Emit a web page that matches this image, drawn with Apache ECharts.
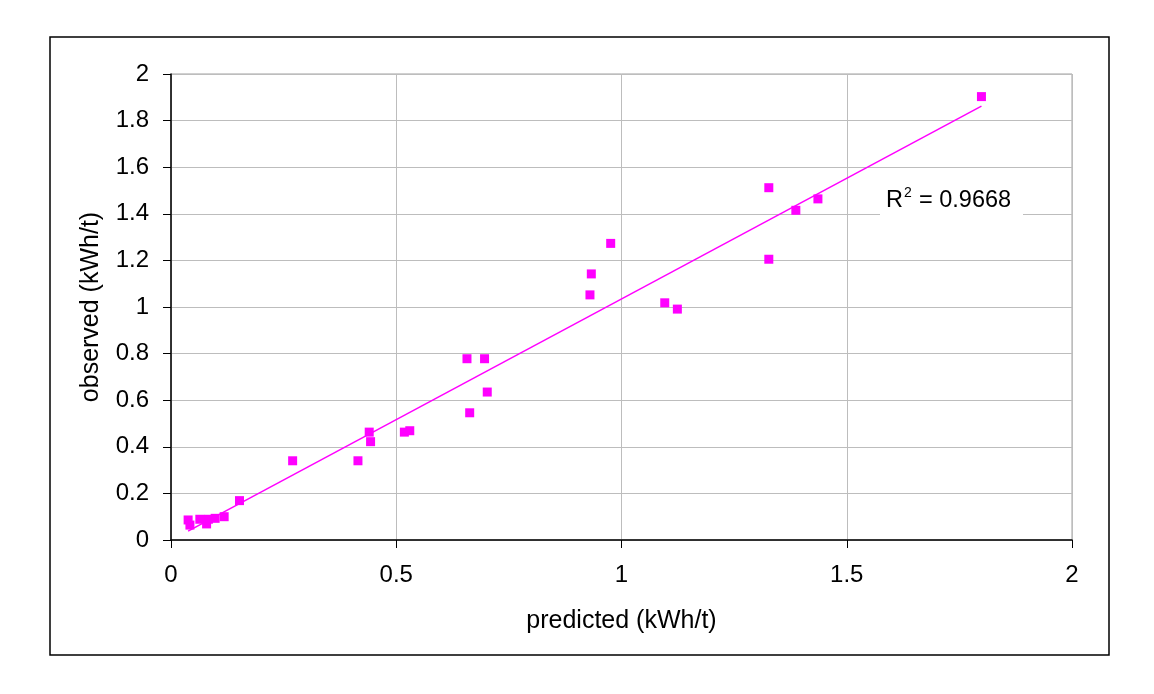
<!DOCTYPE html>
<html>
<head>
<meta charset="utf-8">
<script src="https://cdn.jsdelivr.net/npm/echarts@6/dist/echarts.min.js"></script>
<style>html,body{margin:0;padding:0;background:#fff;}#c{width:1154px;height:694px;}</style>
</head>
<body>
<div id="c"></div>
<script>
var predicted = [0.038, 0.042, 0.064, 0.079, 0.083, 0.098, 0.118, 0.152, 0.27, 0.415, 0.44, 0.443, 0.518, 0.53, 0.657, 0.696, 0.702, 0.663, 0.93, 0.933, 0.976, 1.096, 1.124, 1.327, 1.327, 1.387, 1.436, 1.799];
var observed  = [0.086, 0.064, 0.089, 0.069, 0.089, 0.093, 0.100, 0.169, 0.34, 0.34, 0.463, 0.422, 0.463, 0.469, 0.778, 0.778, 0.635, 0.546, 1.052, 1.142, 1.273, 1.018, 0.991, 1.512, 1.205, 1.415, 1.464, 1.903];
var xTicks = [0, 0.5, 1, 1.5, 2];
var yTicks = [0, 0.2, 0.4, 0.6, 0.8, 1, 1.2, 1.4, 1.6, 1.8, 2];
var xName = 'predicted (kWh/t)';
var yName = 'observed (kWh/t)';
var r2Base = 'R';
var r2Sup = '2';
var r2Rest = '= 0.9668';

// least-squares trendline
var n = predicted.length, sx = 0, sy = 0, sxx = 0, sxy = 0;
for (var i = 0; i < n; i++) { sx += predicted[i]; sy += observed[i]; sxx += predicted[i]*predicted[i]; sxy += predicted[i]*observed[i]; }
var slope = (n*sxy - sx*sy) / (n*sxx - sx*sx);
var icpt = (sy - slope*sx) / n;
var xmin = Math.min.apply(null, predicted), xmax = Math.max.apply(null, predicted);
var trend = [[xmin, icpt + slope*xmin], [xmax, icpt + slope*xmax]];
var pts = predicted.map(function (p, i) { return [p, observed[i]]; });

var FONT = 'Liberation Sans, Arial, sans-serif';
var chart = echarts.init(document.getElementById('c'), null, {renderer: 'canvas'});
chart.setOption({
  animation: false,
  backgroundColor: '#fff',
  grid: {left: 171, right: 82, top: 74, bottom: 154, show: true, borderColor: '#a0a0a0', borderWidth: 1},
  xAxis: {
    type: 'value', min: xTicks[0], max: xTicks[xTicks.length-1], interval: xTicks[1]-xTicks[0],
    name: xName, nameLocation: 'middle', nameGap: 69,
    nameTextStyle: {fontFamily: FONT, fontSize: 25, color: '#000'},
    axisLine: {show: true, onZero: false, lineStyle: {color: '#000', width: 1.5}},
    axisTick: {show: true, inside: false, length: 8, lineStyle: {color: '#000'}},
    axisLabel: {fontFamily: FONT, fontSize: 24, color: '#000', margin: 23},
    splitLine: {show: true, lineStyle: {color: '#bdbdbd', width: 1}}
  },
  yAxis: {
    type: 'value', min: yTicks[0], max: yTicks[yTicks.length-1], interval: yTicks[1]-yTicks[0],
    name: yName, nameLocation: 'middle', nameGap: 67,
    nameTextStyle: {fontFamily: FONT, fontSize: 25, color: '#000'},
    axisLine: {show: true, onZero: false, lineStyle: {color: '#000', width: 1.5}},
    axisTick: {show: true, inside: false, length: 8, lineStyle: {color: '#000'}},
    axisLabel: {fontFamily: FONT, fontSize: 24, color: '#000', margin: 22},
    splitLine: {show: true, lineStyle: {color: '#bdbdbd', width: 1}}
  },
  series: [
    {type: 'line', data: trend, showSymbol: false, symbol: 'none', lineStyle: {color: '#ff00ff', width: 1.5}, z: 2},
    {type: 'scatter', data: pts, symbol: 'rect', symbolSize: 9, itemStyle: {color: '#ff00ff', opacity: 1}, z: 3}
  ],
  graphic: [
    {type: 'rect', shape: {x: 50, y: 37, width: 1059, height: 618}, style: {fill: 'none', stroke: '#000', lineWidth: 1.5}, silent: true, z: 0},
    {type: 'rect', shape: {x: 880, y: 180, width: 143, height: 42}, style: {fill: '#fff'}, z: 10},
    {type: 'text', left: 886, top: 189, style: {text: r2Base, font: '23.5px ' + FONT, fill: '#000'}, z: 11},
    {type: 'text', left: 904, top: 186, style: {text: r2Sup, font: '14px ' + FONT, fill: '#000'}, z: 11},
    {type: 'text', left: 919, top: 189, style: {text: r2Rest, font: '23.5px ' + FONT, fill: '#000'}, z: 11}
  ]
});
</script>
</body>
</html>
